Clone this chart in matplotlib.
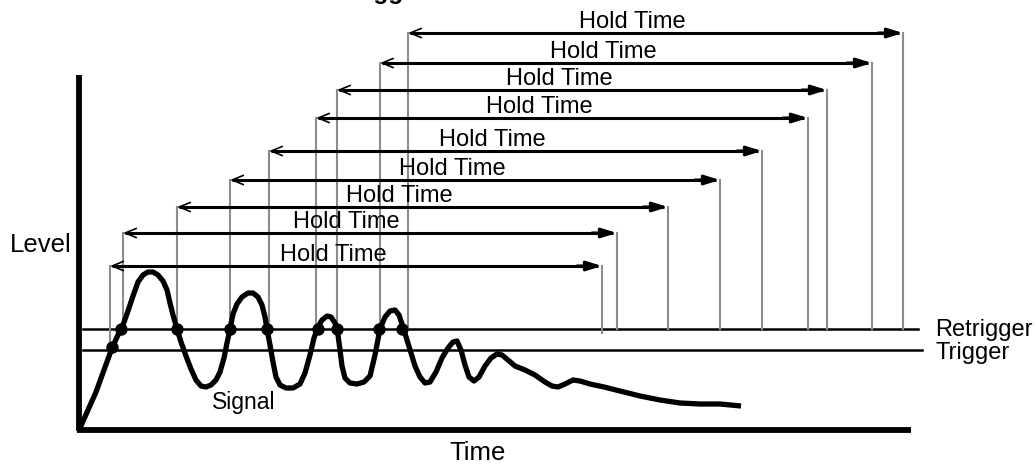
import matplotlib
matplotlib.use('Agg')
import matplotlib.pyplot as plt

plt.rcParams['font.family'] = ['Liberation Sans', 'DejaVu Sans']

# everything is in pixel units of the 1036x466 canvas (y grows downwards)
W, H = 1036, 466
RETRIGGER_Y = 329
TRIGGER_Y = 350

# hold time arrows: start of hold, end of hold, arrow height
hold_start = [110, 123, 177, 230, 269, 316, 337, 380, 408]
hold_end = [602, 617, 668, 720, 762, 808, 827, 872, 903]
hold_y = [266, 233, 207, 180, 151, 118, 90, 63, 33]
# level the left marker rises from (first one from trigger, rest from retrigger)
start_base = [347, 329, 329, 329, 329, 329, 329, 329, 329]

# threshold crossing dots
dot_x = [112, 121, 177, 230, 267, 318, 337, 379, 402]
dot_y = [347, 329, 329, 329, 329, 329, 329, 329, 329]

# signal trace
sig_x = [80, 88, 96, 104, 112, 118, 123, 128, 133, 138, 143, 148, 153, 158,
         163, 167, 170, 173, 177, 181, 186, 191, 196, 201, 206, 211, 216, 220,
         224, 227, 230, 233, 237, 242, 248, 253, 258, 262, 265, 267, 270, 273,
         276, 280, 286, 293, 300, 305, 310, 314, 318, 322, 327, 331, 335, 338,
         340, 342, 345, 350, 357, 364, 370, 375, 380, 385, 390, 395, 399, 403,
         407, 411, 415, 420, 425, 430, 436, 442, 448, 453, 457, 461, 465, 469,
         474, 479, 485, 491, 497, 502, 508, 515, 525, 535, 545, 552, 558, 565,
         573, 580, 590, 604, 620, 640, 660, 680, 700, 720, 741]
sig_y = [428, 410, 392, 370, 348, 335, 325, 311, 296, 282, 275, 272, 272, 275,
         281, 290, 303, 315, 329, 342, 356, 369, 380, 386, 387, 385, 380, 372,
         358, 343, 329, 314, 304, 297, 293, 293, 297, 305, 317, 329, 345, 362,
         377, 385, 388, 388, 384, 373, 355, 338, 327, 320, 316, 317, 323, 335,
         350, 366, 378, 383, 384, 382, 376, 355, 329, 317, 311, 310, 315, 327,
         340, 353, 366, 377, 383, 382, 372, 358, 348, 342, 341, 350, 365, 377,
         381, 377, 366, 358, 354, 355, 360, 366, 370, 375, 382, 386, 387, 384,
         380, 381, 384, 387, 391, 396, 400, 403, 404, 404, 406]

fig = plt.figure(figsize=(W / 100, H / 100), dpi=100)
ax = fig.add_axes([0, 0, 1, 1])
ax.set_xlim(0, W)
ax.set_ylim(H, 0)
ax.axis('off')

GRAY = '#8c8c8c'

# axes of the diagram
ax.plot([79, 79], [75, 431], color='k', lw=4.2, solid_capstyle='butt')
ax.plot([77, 911], [430, 430], color='k', lw=4.2, solid_capstyle='butt')

# threshold lines
ax.plot([83, 918], [RETRIGGER_Y, RETRIGGER_Y], color='k', lw=1.8)
ax.plot([83, 922], [TRIGGER_Y, TRIGGER_Y], color='k', lw=1.8)
ax.text(935, RETRIGGER_Y + 7, 'Retrigger', fontsize=17, va='baseline', ha='left')
ax.text(935, TRIGGER_Y + 9, 'Trigger', fontsize=17, va='baseline', ha='left')

# hold time markers
for i in range(len(hold_y)):
    x0, x1, y = hold_start[i], hold_end[i], hold_y[i]
    ax.plot([x0, x0], [y, start_base[i]], color=GRAY, lw=1.5, zorder=2)
    ax.plot([x1, x1], [y, RETRIGGER_Y + (4 if i == 0 else 0)], color=GRAY,
            lw=1.5, zorder=2)
    ax.plot([x0 + 2, x1 - 4], [y, y], color='k', lw=2.2, zorder=3,
            solid_capstyle='butt')
    ax.annotate('', xy=(x0, y), xytext=(x0 + 25, y),
                arrowprops=dict(arrowstyle='->,head_length=0.8,head_width=0.33',
                                color='k', lw=1.2, shrinkA=0, shrinkB=0),
                zorder=4)
    ax.annotate('', xy=(x1, y), xytext=(x1 - 25, y),
                arrowprops=dict(arrowstyle='-|>,head_length=0.9,head_width=0.28',
                                color='k', lw=2.2, shrinkA=0, shrinkB=0),
                zorder=4)
    ax.text(x0 + 0.453 * (x1 - x0), y - 5, 'Hold Time', fontsize=17,
            ha='center', va='baseline', zorder=5)

# signal and crossing points
ax.plot(sig_x, sig_y, color='k', lw=3.8, solid_joinstyle='round',
        solid_capstyle='butt', zorder=6)
ax.scatter(dot_x, dot_y, s=80, color='k', zorder=7, linewidths=0)

ax.text(212, 403, 'Signal', fontsize=16.5, va='center', ha='left')
ax.text(10, 245, 'Level', fontsize=18.5, va='center', ha='left')
ax.text(478, 453, 'Time', fontsize=18.5, va='center', ha='center')

# title, cropped at the top edge of the image as in the source
ax.text(100, -0.5, 'Hold Time and the Retrigger Threshold', fontsize=17.6,
        fontweight='bold', ha='left', va='baseline', clip_on=False)

fig.savefig('out.png', dpi=100)
